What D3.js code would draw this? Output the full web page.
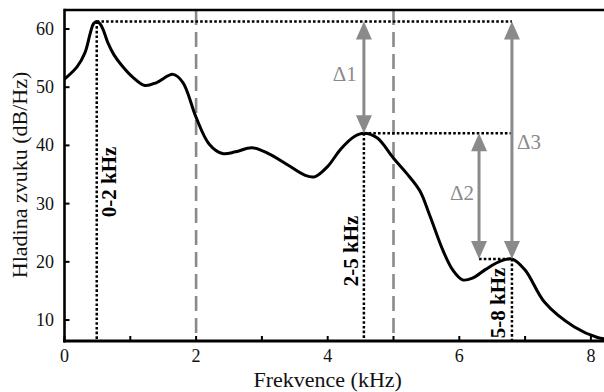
<!DOCTYPE html>
<html><head><meta charset="utf-8">
<script src="https://cdn.jsdelivr.net/npm/d3@7"></script>
<style>
html,body{margin:0;padding:0;background:#fff;}
svg{display:block;font-family:"Liberation Serif","Times New Roman",serif;}
</style></head>
<body>
<svg id="chart" width="604" height="392"></svg>
<script>
// ---- data ----
const freq  = [0.0, 0.19, 0.31, 0.39, 0.44, 0.49, 0.54, 0.59, 0.66, 0.75, 0.88, 1.04, 1.22, 1.4, 1.65, 1.8, 2.0, 2.2, 2.4, 2.6, 2.85, 3.1, 3.4, 3.65, 3.8, 4.0, 4.2, 4.4, 4.55, 4.75, 5.0, 5.2, 5.4, 5.55, 5.75, 5.9, 6.05, 6.2, 6.4, 6.6, 6.8, 7.0, 7.3, 7.75, 8.1, 8.2];
const level = [51.4, 53.5, 55.9, 59.2, 60.9, 61.3, 60.9, 59.8, 57.6, 55.6, 53.6, 51.7, 50.3, 50.8, 52.2, 50.8, 44.8, 40.2, 38.6, 38.9, 39.6, 38.6, 36.6, 34.9, 34.6, 36.4, 39.4, 41.5, 42.1, 41.3, 37.8, 35.2, 32.2, 28.0, 22.0, 18.6, 16.9, 17.2, 18.7, 20.0, 20.5, 18.6, 13.0, 8.8, 7.0, 6.8];
const xTicks = [0, 2, 4, 6, 8];
const xMinorTicks = [1, 3, 5, 7];
const yTicks = [10, 20, 30, 40, 50, 60];
const bandEdges = [2, 5];
const bandLabels = ["0-2 kHz", "2-5 kHz", "5-8 kHz"];
const peakFreq  = [0.49, 4.55, 6.8];
const peakLevel = [61.3, 42.1, 20.5];
const deltaLabels = ["Δ1", "Δ2", "Δ3"];
const deltaFreq = [4.55, 6.3, 6.8];
const deltaFrom = [61.3, 42.1, 61.3];
const deltaTo   = [42.1, 20.5, 20.5];
const xTitle = "Frekvence (kHz)";
const yTitle = "Hladina zvuku (dB/Hz)";

// ---- layout ----
const svg = d3.select("#chart");
const L = 64.5, R = 604, T = 10, B = 341;
const x = d3.scaleLinear().domain([0, 8.2]).range([L, L + 8.2 * 65.8]);
const y = d3.scaleLinear().domain([6.4, 63.26]).range([B, T]);
const grey = "#8a8a8a";

svg.append("defs").append("clipPath").attr("id", "clip")
  .append("rect").attr("x", L).attr("y", T).attr("width", R - L).attr("height", B - T);

const plot = svg.append("g").attr("clip-path", "url(#clip)");

// dashed band edges
plot.selectAll(".edge").data(bandEdges).enter().append("line")
  .attr("x1", d => x(d)).attr("x2", d => x(d)).attr("y1", T).attr("y2", B)
  .attr("stroke", grey).attr("stroke-width", 2.6).attr("stroke-dasharray", "15,7");

// dotted verticals at peaks
plot.selectAll(".pv").data(peakFreq).enter().append("line")
  .attr("x1", d => x(d)).attr("x2", d => x(d))
  .attr("y1", (d, i) => y(peakLevel[i])).attr("y2", B)
  .attr("stroke", "#000").attr("stroke-width", 2.5).attr("stroke-dasharray", "2.6,2.1");

// dotted horizontals
const hLines = [
  {y: peakLevel[0], x1: peakFreq[0], x2: deltaFreq[2]},
  {y: peakLevel[1], x1: peakFreq[1], x2: deltaFreq[2]},
  {y: peakLevel[2], x1: deltaFreq[1], x2: peakFreq[2]}
];
plot.selectAll(".ph").data(hLines).enter().append("line")
  .attr("x1", d => x(d.x1)).attr("x2", d => x(d.x2))
  .attr("y1", d => y(d.y)).attr("y2", d => y(d.y))
  .attr("stroke", "#000").attr("stroke-width", 2.5).attr("stroke-dasharray", "2.6,2.1");

// curve
const line = d3.line().x((d, i) => x(freq[i])).y(d => y(d)).curve(d3.curveCatmullRom.alpha(0.5));
plot.append("path").datum(level).attr("d", line)
  .attr("fill", "none").attr("stroke", "#000").attr("stroke-width", 3);

// double arrows
const headL = 18, headW = 8;
deltaFreq.forEach((f, i) => {
  const xx = x(f), y1 = y(deltaFrom[i]), y2 = y(deltaTo[i]);
  const g = svg.append("g");
  g.append("line").attr("x1", xx).attr("x2", xx).attr("y1", y1 + headL - 2).attr("y2", y2 - headL + 2)
    .attr("stroke", grey).attr("stroke-width", 3);
  g.append("path").attr("d", `M${xx},${y1} L${xx - headW},${y1 + headL} L${xx + headW},${y1 + headL} Z`).attr("fill", grey);
  g.append("path").attr("d", `M${xx},${y2} L${xx - headW},${y2 - headL} L${xx + headW},${y2 - headL} Z`).attr("fill", grey);
});

// delta labels
const deltaPos = [{dx: -7, anchor: "end", yv: 51.0}, {dx: -5, anchor: "end", yv: 30.6}, {dx: 5, anchor: "start", yv: 39.4}];
deltaLabels.forEach((t, i) => {
  svg.append("text").attr("x", x(deltaFreq[i]) + deltaPos[i].dx).attr("y", y(deltaPos[i].yv))
    .attr("text-anchor", deltaPos[i].anchor).attr("font-size", 21).attr("fill", grey).text(t);
});

// band labels (rotated)
const bandPos = [{dx: 19, cy: 182}, {dx: -6, cy: 251}, {dx: -7, cy: 303}];
bandLabels.forEach((t, i) => {
  const bx = x(peakFreq[i]) + bandPos[i].dx, by = bandPos[i].cy;
  svg.append("text").attr("transform", `translate(${bx},${by}) rotate(-90)`)
    .attr("text-anchor", "middle").attr("font-size", 21).attr("font-weight", "bold")
    .attr("fill", "#000").text(t);
});

// axes frame
svg.append("line").attr("x1", L).attr("x2", R).attr("y1", T).attr("y2", T).attr("stroke", "#000").attr("stroke-width", 2.6);
svg.append("line").attr("x1", L).attr("x2", L).attr("y1", T - 1.3).attr("y2", B + 1.5).attr("stroke", "#000").attr("stroke-width", 2.6);
svg.append("line").attr("x1", L - 1.3).attr("x2", R).attr("y1", B).attr("y2", B).attr("stroke", "#000").attr("stroke-width", 3);

// x ticks
svg.selectAll(".xt").data(xTicks.concat(xMinorTicks)).enter().append("line")
  .attr("x1", d => x(d)).attr("x2", d => x(d)).attr("y1", B).attr("y2", B - 5)
  .attr("stroke", "#000").attr("stroke-width", 2);
svg.selectAll(".xl").data(xTicks).enter().append("text")
  .attr("x", d => x(d)).attr("y", 362).attr("text-anchor", "middle").attr("font-size", 18).attr("fill", "#111").text(d => d);

// y ticks
svg.selectAll(".yt").data(yTicks).enter().append("line")
  .attr("x1", L).attr("x2", L + 5).attr("y1", d => y(d)).attr("y2", d => y(d))
  .attr("stroke", "#000").attr("stroke-width", 2);
svg.selectAll(".yl").data(yTicks).enter().append("text")
  .attr("x", 54).attr("y", d => y(d) + 6).attr("text-anchor", "end").attr("font-size", 18).attr("fill", "#111").text(d => d);

// titles
svg.append("text").attr("x", x(4)).attr("y", 387).attr("text-anchor", "middle").attr("font-size", 22).attr("fill", "#111").text(xTitle);
svg.append("text").attr("transform", `translate(27,175) rotate(-90)`).attr("text-anchor", "middle").attr("font-size", 22).attr("fill", "#111").text(yTitle);
</script>
</body></html>
